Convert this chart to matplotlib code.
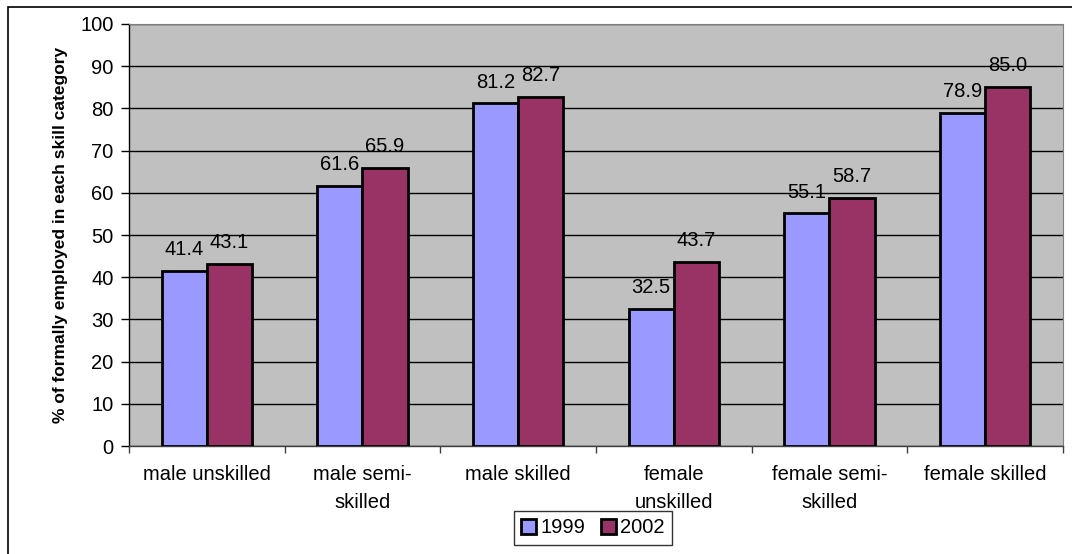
import matplotlib
matplotlib.use("Agg")
import matplotlib.pyplot as plt
import numpy as np
from matplotlib.patches import Rectangle

plt.rcParams["font.family"] = ["Liberation Sans", "DejaVu Sans"]

categorias = ["male unskilled", "male semi-\nskilled", "male skilled",
              "female\nunskilled", "female semi-\nskilled", "female skilled"]
valores_1999 = [41.4, 61.6, 81.2, 32.5, 55.1, 78.9]
valores_2002 = [43.1, 65.9, 82.7, 43.7, 58.7, 85.0]

COR_1999 = "#9999FF"
COR_2002 = "#993366"
COR_FUNDO = "#C0C0C0"

fig = plt.figure(figsize=(10.72, 5.54), dpi=100)
ax = fig.add_axes([0.1203, 0.1949, 0.8713, 0.7618])
ax.set_facecolor(COR_FUNDO)

x = np.arange(len(categorias))
largura = 0.29
b1 = ax.bar(x - largura / 2, valores_1999, largura, color=COR_1999,
            edgecolor="black", linewidth=2, label="1999", zorder=3)
b2 = ax.bar(x + largura / 2, valores_2002, largura, color=COR_2002,
            edgecolor="black", linewidth=2, label="2002", zorder=3)

for barras in (b1, b2):
    for r in barras:
        ax.text(r.get_x() + r.get_width() / 2, r.get_height() + 2.8,
                f"{r.get_height():.1f}", ha="center", va="bottom",
                fontsize=14.5, zorder=4)

ax.set_ylim(0, 100)
ax.set_xlim(-0.5, len(categorias) - 0.5)
ax.set_yticks(range(0, 101, 10))
ax.yaxis.grid(True, color="black", linewidth=1, zorder=0)
ax.set_axisbelow(True)
ax.set_xticks(np.arange(-0.5, len(categorias), 1))
ax.set_xticklabels([])
ax.set_xticks(x, minor=True)
ax.set_xticklabels(categorias, minor=True, fontsize=14.5)
ax.tick_params(axis="x", which="minor", length=0, pad=14)
ax.tick_params(axis="x", which="major", length=5, width=1, direction="out",
               color="#404040")
ax.tick_params(axis="y", length=6, width=1, labelsize=14.5, direction="out",
               pad=5)
for lab in ax.get_xticklabels(minor=True):
    lab.set_linespacing(1.6)

ax.spines["top"].set_color("#808080")
ax.spines["right"].set_color("#808080")
ax.spines["left"].set_linewidth(1)
ax.spines["bottom"].set_linewidth(1)
ax.spines["bottom"].set_color("#404040")

ax.set_ylabel("% of formally employed in each skill category",
              fontsize=12.5, fontweight="bold", labelpad=9)

ax.legend(loc="center", bbox_to_anchor=(0.553, 0.047),
          bbox_transform=fig.transFigure, ncol=2, fontsize=14.5,
          frameon=True, fancybox=False, edgecolor="black",
          handlelength=0.75, handleheight=0.75, handletextpad=0.2,
          columnspacing=0.8, borderpad=0.35)

fig.patches.append(Rectangle((0.0075, -0.01), 1.1, 0.998, transform=fig.transFigure,
                             fill=False, edgecolor="black", linewidth=1.2))

fig.savefig("out.png", dpi=100)
